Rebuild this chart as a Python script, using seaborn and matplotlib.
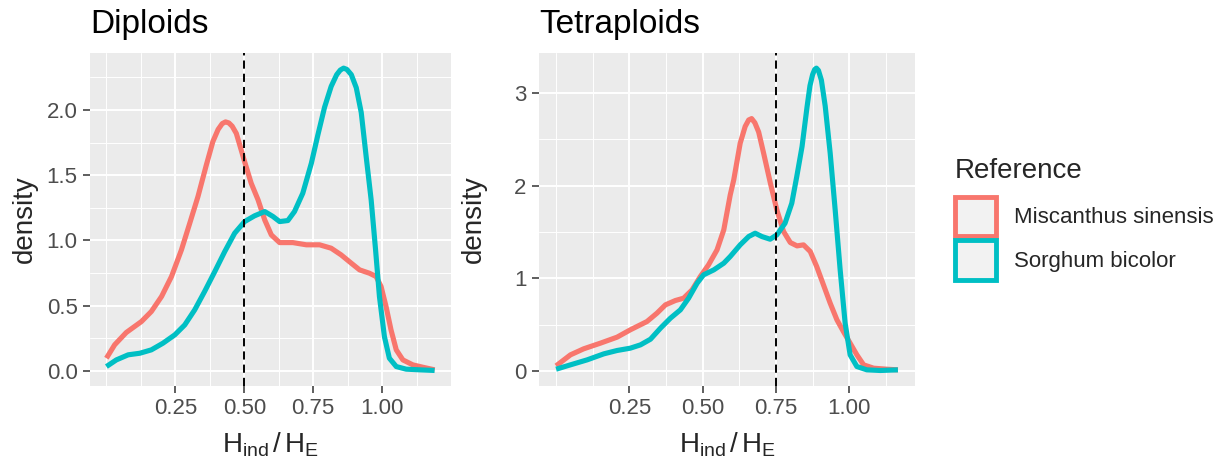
import numpy as np
import pandas as pd
import seaborn as sns
import matplotlib.pyplot as plt
from matplotlib.patches import Patch
from matplotlib.ticker import FixedLocator

# density curves (x = H_ind/H_E, y = density)
dip_mis_x = [0, 0.03, 0.072, 0.127, 0.163, 0.2, 0.236, 0.272, 0.302, 0.332, 0.362, 0.386, 0.405, 0.42,
             0.432, 0.444, 0.456, 0.471, 0.485, 0.501, 0.525, 0.55, 0.574, 0.598, 0.628, 0.676, 0.725,
             0.773, 0.815, 0.851, 0.888, 0.918, 0.954, 0.978, 0.996, 1.014, 1.032, 1.051, 1.075, 1.111,
             1.147, 1.19]
dip_mis_y = [0.097, 0.2, 0.294, 0.378, 0.455, 0.57, 0.723, 0.927, 1.13, 1.336, 1.575, 1.757, 1.85, 1.895,
             1.908, 1.9, 1.875, 1.82, 1.72, 1.604, 1.438, 1.31, 1.157, 1.042, 0.983, 0.983, 0.966,
             0.966, 0.94, 0.889, 0.825, 0.774, 0.748, 0.723, 0.646, 0.493, 0.314, 0.161, 0.084, 0.046,
             0.028, 0.008]

dip_sor_x = [0, 0.036, 0.079, 0.121, 0.163, 0.205, 0.248, 0.284, 0.32, 0.356, 0.393, 0.429, 0.465, 0.501,
             0.537, 0.574, 0.604, 0.628, 0.658, 0.682, 0.712, 0.743, 0.767, 0.791, 0.815, 0.835, 0.848,
             0.86, 0.872, 0.888, 0.906, 0.924, 0.942, 0.96, 0.976, 0.99, 1.008, 1.026, 1.051, 1.087,
             1.135, 1.19]
dip_sor_y = [0.033, 0.084, 0.123, 0.135, 0.161, 0.212, 0.276, 0.352, 0.467, 0.608, 0.761, 0.914, 1.055,
             1.144, 1.188, 1.221, 1.183, 1.144, 1.152, 1.221, 1.361, 1.59, 1.81, 2.02, 2.18, 2.27, 2.305,
             2.32, 2.31, 2.27, 2.17, 1.98, 1.64, 1.31, 0.927, 0.57, 0.263, 0.097, 0.033, 0.013, 0.008,
             0.003]

tet_mis_x = [0, 0.049, 0.094, 0.151, 0.208, 0.253, 0.31, 0.344, 0.373, 0.407, 0.435, 0.464, 0.492, 0.52,
             0.549, 0.572, 0.594, 0.606, 0.628, 0.645, 0.657, 0.667, 0.678, 0.691, 0.708, 0.731, 0.753,
             0.776, 0.799, 0.822, 0.844, 0.867, 0.889, 0.912, 0.935, 0.958, 0.98, 1.003, 1.026, 1.049,
             1.083, 1.128, 1.166]
tet_mis_y = [0.054, 0.173, 0.238, 0.299, 0.364, 0.443, 0.533, 0.623, 0.713, 0.76, 0.785, 0.875, 1.019,
             1.145, 1.307, 1.523, 1.9, 2.063, 2.459, 2.64, 2.71, 2.725, 2.68, 2.58, 2.35, 2.027, 1.739,
             1.505, 1.386, 1.35, 1.361, 1.289, 1.127, 0.929, 0.731, 0.551, 0.425, 0.299, 0.173, 0.065,
             0.029, 0.018, 0.011]

tet_sor_x = [0, 0.049, 0.106, 0.163, 0.208, 0.253, 0.288, 0.322, 0.356, 0.39, 0.424, 0.452, 0.481, 0.503,
             0.538, 0.572, 0.594, 0.628, 0.657, 0.679, 0.702, 0.73, 0.753, 0.781, 0.804, 0.821, 0.839,
             0.856, 0.866, 0.875, 0.882, 0.888, 0.895, 0.905, 0.918, 0.935, 0.952, 0.969, 0.986, 1.003,
             1.026, 1.06, 1.106, 1.166]
tet_sor_y = [0.018, 0.065, 0.119, 0.184, 0.22, 0.245, 0.281, 0.342, 0.461, 0.569, 0.659, 0.785, 0.947,
             1.037, 1.091, 1.163, 1.235, 1.361, 1.451, 1.487, 1.451, 1.422, 1.469, 1.595, 1.811, 2.099,
             2.423, 2.85, 3.08, 3.2, 3.255, 3.27, 3.245, 3.14, 2.86, 2.351, 1.739, 1.091, 0.515, 0.173,
             0.047, 0.011, 0.004, 0.011]

species = ["Miscanthus sinensis", "Sorghum bicolor"]
colors = ["#F8766D", "#00BFC4"]
panels = ["Diploids", "Tetraploids"]
cutoffs = [0.5, 0.75]

frames = []
for panel, sp, xs, ys in [("Diploids", species[0], dip_mis_x, dip_mis_y),
                          ("Diploids", species[1], dip_sor_x, dip_sor_y),
                          ("Tetraploids", species[0], tet_mis_x, tet_mis_y),
                          ("Tetraploids", species[1], tet_sor_x, tet_sor_y)]:
    frames.append(pd.DataFrame({"x": xs, "density": ys, "Reference": sp, "panel": panel}))
df = pd.concat(frames, ignore_index=True)

sns.set_theme(style="darkgrid")
plt.rcParams["font.family"] = ["Liberation Sans", "DejaVu Sans"]
plt.rcParams["mathtext.fontset"] = "custom"
plt.rcParams["mathtext.rm"] = "Liberation Sans"
plt.rcParams["mathtext.it"] = "Liberation Sans:italic"

W, H = 1224, 465
fig = plt.figure(figsize=(W / 100, H / 100), dpi=100)
fig.patch.set_facecolor("white")

# panel boxes in pixels: (left, right, top, bottom)
boxes = [(90, 451, 53, 386), (539, 915, 53, 386)]
ymajor = [np.arange(0, 2.01, 0.5), np.arange(0, 3.01, 1)]
yminor = [np.arange(0.25, 2.5, 0.5), np.arange(0.5, 3.5, 1)]
ylabels = [["0.0", "0.5", "1.0", "1.5", "2.0"], ["0", "1", "2", "3"]]
xmajor = [0.25, 0.5, 0.75, 1.0]
xminor = [0, 0.125, 0.375, 0.625, 0.875, 1.125]

for i, panel in enumerate(panels):
    l, r, t, b = boxes[i]
    ax = fig.add_axes([l / W, 1 - b / H, (r - l) / W, (b - t) / H])
    ax.set_facecolor("#EBEBEB")
    sub = df[df.panel == panel]
    sns.lineplot(data=sub, x="x", y="density", hue="Reference", hue_order=species,
                 palette=colors, linewidth=3.7, estimator=None, legend=False, ax=ax,
                 solid_joinstyle="round", solid_capstyle="butt")
    ax.axvline(cutoffs[i], color="black", lw=1.4, ls=(0, (4.2, 2.6)))

    xr = sub.x.max() - sub.x.min()
    ax.set_xlim(sub.x.min() - 0.05 * xr, sub.x.max() + 0.05 * xr)
    ymax = sub.density.max()
    ax.set_ylim(-0.05 * ymax, ymax * 1.05)

    ax.xaxis.set_major_locator(FixedLocator(xmajor))
    ax.xaxis.set_minor_locator(FixedLocator(xminor))
    ax.set_xticklabels(["0.25", "0.50", "0.75", "1.00"])
    ax.yaxis.set_major_locator(FixedLocator(ymajor[i]))
    ax.yaxis.set_minor_locator(FixedLocator(yminor[i]))
    ax.set_yticklabels(ylabels[i])
    ax.grid(which="major", color="white", lw=1.4)
    ax.grid(which="minor", color="white", lw=0.7)
    ax.set_axisbelow(True)
    for s in ax.spines.values():
        s.set_visible(False)
    ax.tick_params(which="major", length=5, width=1.1, color="#333333", labelcolor="#4D4D4D",
                   labelsize=16, pad=4, bottom=True, left=True)
    ax.tick_params(which="minor", length=0)
    ax.set_xlabel("")
    ax.set_ylabel("")

    fig.text(l / W, 1 - 33 / H, panel, fontsize=24, color="black", va="baseline", ha="left")
    fig.text((l - 65) / W, 1 - ((t + b) / 2) / H, "density", fontsize=20, rotation=90,
             ha="center", va="center")
    fig.text(((l + r) / 2) / W, 1 - 452 / H, r"$\mathrm{H_{ind}\,/\,H_{E}}$", fontsize=20,
             ha="center", va="baseline")

handles = [Patch(facecolor="#F2F2F2", edgecolor=c, linewidth=3.5) for c in colors]
leg = fig.legend(handles, species, title="Reference", loc="upper left",
                 bbox_to_anchor=(955 / W, 1 - 158 / H), frameon=False, fontsize=16,
                 title_fontsize=20, handlelength=1.85, handleheight=2.35, labelspacing=0.2,
                 handletextpad=0.8, borderpad=0, borderaxespad=0)
leg._legend_box.align = "left"
leg._legend_box.sep = 9

fig.savefig("out.png", dpi=100)
